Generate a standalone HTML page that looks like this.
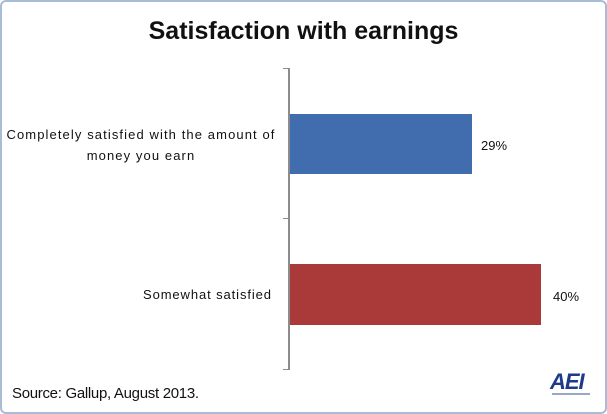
<!DOCTYPE html>
<html><head><meta charset="utf-8"><style>
body{margin:0;width:607px;height:414px;background:#fff;overflow:hidden;position:relative;font-family:"Liberation Sans",sans-serif;}
.frame{position:absolute;left:0;top:0;width:603px;height:410px;border:2px solid #a9bcd6;border-radius:6px;}
.t{position:absolute;white-space:nowrap;color:#111;}
</style></head><body>
<div class="frame"></div>
<div class="t" style="left:0;width:607px;text-align:center;top:17px;font-size:25px;font-weight:bold;">Satisfaction with earnings</div>
<div style="position:absolute;left:288px;top:68px;width:2px;height:302px;background:#8c8c8c"></div>
<div style="position:absolute;left:283px;top:68px;width:6px;height:1px;background:#8c8c8c"></div>
<div style="position:absolute;left:283px;top:218px;width:6px;height:1px;background:#8c8c8c"></div>
<div style="position:absolute;left:283px;top:369px;width:6px;height:1px;background:#8c8c8c"></div>
<div style="position:absolute;left:290px;top:114px;width:182px;height:60px;background:#416daf"></div>
<div style="position:absolute;left:290px;top:264px;width:251px;height:61px;background:#aa3939"></div>
<div class="t" style="left:0;width:282px;text-align:center;top:124px;font-size:13px;line-height:21px;letter-spacing:1.1px">Completely satisfied with the amount of<br>money you earn</div>
<div class="t" style="left:143px;top:287px;font-size:13px;letter-spacing:0.9px">Somewhat satisfied</div>
<div class="t" style="left:481px;top:138px;font-size:13px">29%</div>
<div class="t" style="left:553px;top:289px;font-size:13px">40%</div>
<div class="t" style="left:12px;top:385px;font-size:15px;letter-spacing:-0.3px">Source: Gallup, August 2013.</div>
<div class="t" style="left:550px;top:369px;font-size:22px;font-weight:bold;font-style:italic;color:#1e3a8a;letter-spacing:-1px">AEI</div>
<div style="position:absolute;left:552px;top:393px;width:38px;height:2px;background:#9aa8c8"></div>
</body></html>
